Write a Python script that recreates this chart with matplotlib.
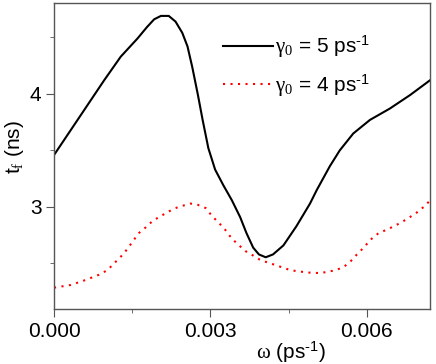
import matplotlib
matplotlib.use('Agg')
import matplotlib.pyplot as plt
from matplotlib.ticker import MultipleLocator

plt.rcParams['font.family'] = ['Liberation Sans', 'DejaVu Sans']
plt.rcParams['mathtext.fontset'] = 'custom'
plt.rcParams['mathtext.rm'] = 'Liberation Serif'
plt.rcParams['mathtext.sf'] = 'Liberation Sans'
plt.rcParams['mathtext.it'] = 'Liberation Serif:italic'

# gamma0 = 5 ps^-1 (solid black)
w5 = [0.0, 0.00032, 0.00064, 0.00096, 0.00128, 0.0016, 0.00178, 0.00192, 0.00205,
      0.0022, 0.00233, 0.00246, 0.00256, 0.00265, 0.00276, 0.00285, 0.00296,
      0.00309, 0.00325, 0.00341, 0.00357, 0.00369, 0.00382, 0.00393, 0.00406,
      0.0042, 0.0044, 0.00465, 0.00491, 0.00504, 0.00529, 0.00548, 0.00574,
      0.00606, 0.00644, 0.00683, 0.00721]
t5 = [3.46, 3.68, 3.90, 4.12, 4.33, 4.49, 4.59, 4.66, 4.69,
      4.69, 4.64, 4.54, 4.42, 4.24, 3.99, 3.77, 3.52,
      3.33, 3.19, 3.06, 2.91, 2.77, 2.64, 2.58, 2.555,
      2.58, 2.66, 2.83, 3.03, 3.15, 3.36, 3.50, 3.65,
      3.77, 3.87, 3.99, 4.12]

# gamma0 = 4 ps^-1 (red dotted)
w4 = [0.0, 0.00032, 0.00058, 0.00086, 0.00102, 0.00115, 0.00128, 0.00141, 0.0015,
      0.00163, 0.00176, 0.0019, 0.00205, 0.0022, 0.00233, 0.00246, 0.00262,
      0.00275, 0.00291, 0.00303, 0.00316, 0.00328, 0.00341, 0.00355, 0.00367,
      0.00382, 0.00396, 0.00422, 0.00454, 0.00486, 0.00511, 0.0054, 0.00556,
      0.00569, 0.00581, 0.00594, 0.00607, 0.00623, 0.00639, 0.00665, 0.00693,
      0.00709, 0.00722]
t4 = [2.286, 2.31, 2.35, 2.40, 2.44, 2.50, 2.56, 2.63, 2.69,
      2.77, 2.82, 2.88, 2.92, 2.96, 2.99, 3.01, 3.03,
      3.02, 2.99, 2.92, 2.86, 2.80, 2.72, 2.66, 2.61,
      2.57, 2.53, 2.49, 2.44, 2.42, 2.415, 2.44, 2.47,
      2.52, 2.58, 2.64, 2.71, 2.77, 2.80, 2.86, 2.94,
      3.00, 3.06]

fig = plt.figure(figsize=(4.36, 3.64), dpi=100)
ax = fig.add_axes([0.124, 0.151, 0.862, 0.841])

ax.plot(w5, t5, 'k-', lw=1.5, label=r'$\mathrm{\gamma_0}$ = 5 ps$^{\mathsf{‐1}}$')
ax.plot(w4, t4, color='red', lw=1.5, linestyle=(0, (1, 2.6)),
        label=r'$\mathrm{\gamma_0}$ = 4 ps$^{\mathsf{‐1}}$')

ax.set_xlim(0, 0.00721)
ax.set_ylim(2.097, 4.805)
ax.xaxis.set_major_locator(MultipleLocator(0.003))
ax.xaxis.set_minor_locator(MultipleLocator(0.0015))
ax.yaxis.set_major_locator(MultipleLocator(1))
ax.yaxis.set_minor_locator(MultipleLocator(0.5))
ax.xaxis.set_major_formatter(lambda v, p: '%.3f' % v)
ax.yaxis.set_major_formatter(lambda v, p: '%d' % round(v))

for s in ax.spines.values():
    s.set_color('#555555')
    s.set_linewidth(1.0)
ax.tick_params(which='both', direction='out', top=False, right=False,
               labelsize=15, color='#555555', pad=3)
ax.tick_params(which='major', length=6)
ax.tick_params(which='minor', length=3)

ax.set_ylabel(r't$_{\mathrm{f}}$ (ns)', fontsize=15)
ax.yaxis.set_label_coords(-0.075, 0.53)
ax.set_xlabel(r'$\mathrm{\omega}$ (ps$^{\mathsf{‐1}}$)', fontsize=15)
ax.xaxis.set_label_coords(0.63, -0.1)

ax.legend(loc='upper left', bbox_to_anchor=(0.40, 0.96), frameon=False,
          fontsize=15, handlelength=2.4, handletextpad=0.1, labelspacing=0.6)

fig.savefig('out.png', dpi=100)
